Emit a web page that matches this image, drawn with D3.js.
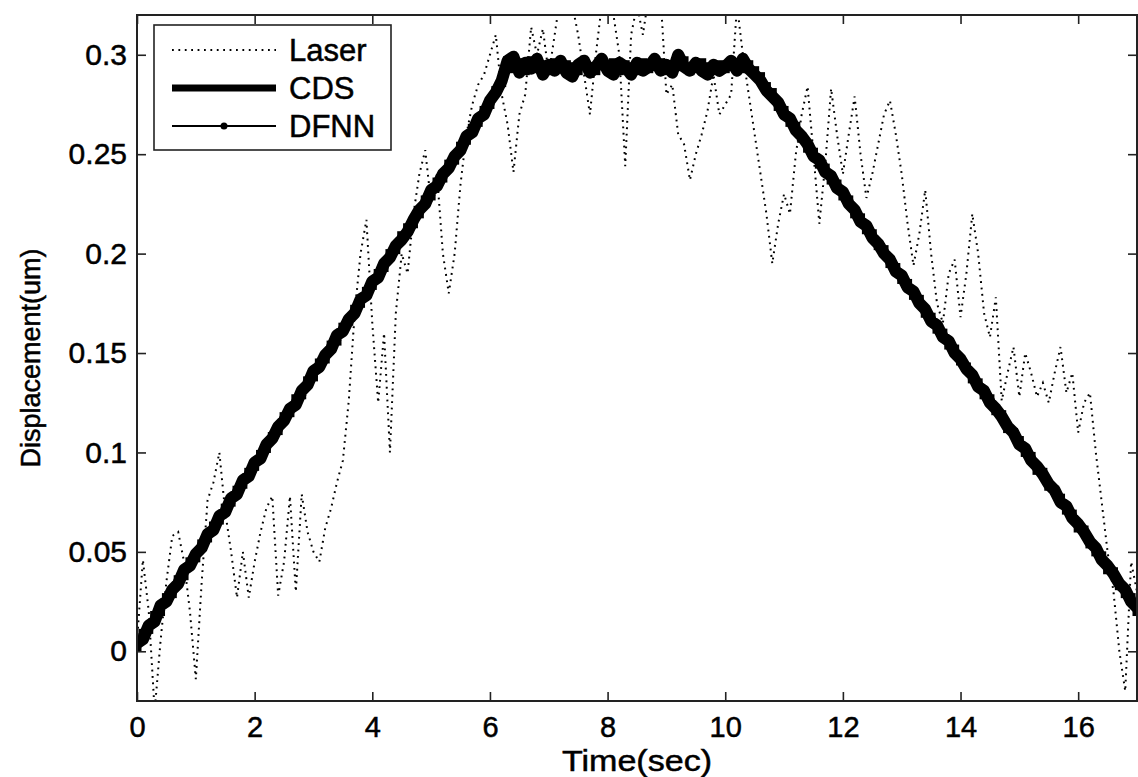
<!DOCTYPE html>
<html>
<head>
<meta charset="utf-8">
<script src="https://cdn.jsdelivr.net/npm/d3@7"></script>
<style>
  html, body { margin: 0; padding: 0; background: #fff; }
  svg { display: block; font-family: "Liberation Sans", Arial, sans-serif; }
  svg text { fill: #000; stroke: #000; stroke-width: 0.5; }
  .axis line { stroke: #222; stroke-width: 1.6; }
</style>
</head>
<body>
<div id="chart"></div>
<script>
// sample grid: 0 .. 17 s every 0.1 s
const dt = 0.1;

// Laser measurement (dotted)
const laser = [
  0.005, 0.046, 0.020, -0.030, 0.005, 0.035, 0.058, 0.060, 0.045, 0.020,
  -0.014, 0.035, 0.076, 0.085, 0.100, 0.070, 0.050, 0.027, 0.050, 0.027,
  0.045, 0.060, 0.072, 0.078, 0.028, 0.045, 0.078, 0.030, 0.079, 0.060,
  0.050, 0.045, 0.062, 0.072, 0.085, 0.096, 0.126, 0.170, 0.200, 0.217,
  0.165, 0.125, 0.160, 0.100, 0.170, 0.200, 0.190, 0.220, 0.240, 0.252,
  0.225, 0.240, 0.200, 0.180, 0.200, 0.235, 0.260, 0.275, 0.285, 0.290,
  0.300, 0.310, 0.280, 0.265, 0.241, 0.270, 0.280, 0.314, 0.300, 0.313,
  0.290, 0.310, 0.330, 0.330, 0.325, 0.310, 0.290, 0.270, 0.300, 0.325,
  0.330, 0.320, 0.300, 0.244, 0.310, 0.325, 0.310, 0.330, 0.325, 0.330,
  0.280, 0.285, 0.260, 0.255, 0.237, 0.250, 0.260, 0.272, 0.290, 0.270,
  0.275, 0.280, 0.325, 0.300, 0.280, 0.260, 0.240, 0.220, 0.195, 0.215,
  0.230, 0.220, 0.250, 0.270, 0.284, 0.250, 0.215, 0.245, 0.283, 0.260,
  0.240, 0.260, 0.279, 0.250, 0.228, 0.240, 0.255, 0.270, 0.277, 0.260,
  0.240, 0.215, 0.194, 0.210, 0.232, 0.200, 0.175, 0.165, 0.190, 0.197,
  0.168, 0.190, 0.220, 0.200, 0.170, 0.158, 0.178, 0.126, 0.140, 0.153,
  0.128, 0.150, 0.140, 0.128, 0.135, 0.125, 0.140, 0.153, 0.130, 0.140,
  0.110, 0.125, 0.130, 0.100, 0.075, 0.050, 0.030, 0.000, -0.020, 0.045,
  0.030
];

// CDS estimate (thick line)
const cds = [
  0.004, 0.006, 0.013, 0.015, 0.023, 0.025, 0.031, 0.034, 0.041, 0.043,
  0.049, 0.052, 0.059, 0.061, 0.068, 0.070, 0.077, 0.079, 0.086, 0.088,
  0.095, 0.097, 0.104, 0.107, 0.113, 0.116, 0.122, 0.124, 0.131, 0.134,
  0.141, 0.143, 0.149, 0.152, 0.159, 0.161, 0.167, 0.170, 0.177, 0.179,
  0.186, 0.188, 0.195, 0.198, 0.204, 0.207, 0.211, 0.217, 0.222, 0.225,
  0.232, 0.234, 0.240, 0.243, 0.249, 0.252, 0.259, 0.261, 0.268, 0.270,
  0.277, 0.281, 0.287, 0.297, 0.299, 0.291, 0.296, 0.293, 0.298, 0.290,
  0.295, 0.292, 0.297, 0.291, 0.289, 0.295, 0.297, 0.291, 0.294, 0.298,
  0.292, 0.290, 0.296, 0.294, 0.290, 0.296, 0.292, 0.294, 0.298, 0.292,
  0.295, 0.291, 0.300, 0.294, 0.292, 0.296, 0.292, 0.290, 0.295, 0.292,
  0.294, 0.297, 0.292, 0.298, 0.293, 0.290, 0.287, 0.282, 0.279, 0.276,
  0.270, 0.268, 0.262, 0.259, 0.255, 0.249, 0.247, 0.241, 0.239, 0.233,
  0.231, 0.225, 0.222, 0.216, 0.214, 0.208, 0.205, 0.200, 0.197, 0.191,
  0.189, 0.183, 0.181, 0.175, 0.172, 0.166, 0.164, 0.158, 0.156, 0.150,
  0.147, 0.142, 0.139, 0.133, 0.131, 0.125, 0.122, 0.118, 0.113, 0.110,
  0.104, 0.102, 0.096, 0.093, 0.089, 0.084, 0.081, 0.075, 0.073, 0.067,
  0.064, 0.060, 0.055, 0.052, 0.046, 0.043, 0.039, 0.034, 0.031, 0.025,
  0.022
];

// DFNN estimate (thin line with dots)
const dfnn = [
  0.002, 0.009, 0.011, 0.018, 0.020, 0.027, 0.029, 0.036, 0.038, 0.045,
  0.047, 0.054, 0.057, 0.063, 0.066, 0.072, 0.075, 0.081, 0.084, 0.090,
  0.093, 0.099, 0.102, 0.108, 0.111, 0.118, 0.120, 0.127, 0.129, 0.136,
  0.138, 0.145, 0.147, 0.154, 0.156, 0.163, 0.166, 0.172, 0.175, 0.181,
  0.184, 0.190, 0.193, 0.200, 0.202, 0.209, 0.213, 0.215, 0.220, 0.227,
  0.229, 0.236, 0.238, 0.245, 0.247, 0.254, 0.257, 0.263, 0.266, 0.272,
  0.275, 0.282, 0.286, 0.297, 0.293, 0.296, 0.292, 0.297, 0.293, 0.295,
  0.292, 0.296, 0.293, 0.295, 0.294, 0.292, 0.296, 0.294, 0.292, 0.295,
  0.294, 0.296, 0.292, 0.295, 0.294, 0.292, 0.296, 0.293, 0.294, 0.296,
  0.292, 0.295, 0.294, 0.297, 0.292, 0.294, 0.296, 0.294, 0.292, 0.295,
  0.293, 0.294, 0.296, 0.293, 0.295, 0.292, 0.289, 0.284, 0.281, 0.274,
  0.272, 0.266, 0.264, 0.258, 0.253, 0.251, 0.245, 0.243, 0.237, 0.235,
  0.229, 0.227, 0.220, 0.218, 0.212, 0.210, 0.204, 0.202, 0.195, 0.193,
  0.187, 0.185, 0.179, 0.177, 0.170, 0.168, 0.162, 0.160, 0.154, 0.152,
  0.146, 0.143, 0.137, 0.135, 0.129, 0.127, 0.121, 0.119, 0.112, 0.110,
  0.106, 0.100, 0.098, 0.091, 0.090, 0.083, 0.081, 0.077, 0.071, 0.069,
  0.062, 0.061, 0.054, 0.050, 0.048, 0.041, 0.040, 0.033, 0.029, 0.027,
  0.020
];

const xTicks = [0, 2, 4, 6, 8, 10, 12, 14, 16];
const yTicks = [0, 0.05, 0.1, 0.15, 0.2, 0.25, 0.3];
const yTickLabels = ['0', '0.05', '0.1', '0.15', '0.2', '0.25', '0.3'];
const legendNames = ['Laser', 'CDS', 'DFNN'];

const width = 1138, height = 777;
const margin = { top: 15, right: 1, bottom: 76, left: 137 };
const W = width - margin.left - margin.right;
const H = height - margin.top - margin.bottom;

const svg = d3.select('#chart').append('svg')
  .attr('width', width)
  .attr('height', height);

const x = d3.scaleLinear().domain([0, 17]).range([0, W]);
const y = d3.scaleLinear().domain([-0.025, 0.32]).range([H, 0]);

const g = svg.append('g').attr('transform', `translate(${margin.left},${margin.top})`);

g.append('clipPath').attr('id', 'plot-clip')
  .append('rect').attr('width', W).attr('height', H);

const toPts = arr => arr.map((v, i) => [Math.round(i * dt * 10) / 10, v]);
const line = d3.line().x(d => x(d[0])).y(d => y(d[1]));

const plot = g.append('g').attr('clip-path', 'url(#plot-clip)');

// laser (dotted)
plot.append('path')
  .datum(toPts(laser))
  .attr('fill', 'none')
  .attr('stroke', '#000')
  .attr('stroke-width', 2)
  .attr('stroke-dasharray', '1.8,4.6')
  .attr('d', line);

// CDS (thick)
plot.append('path')
  .datum(toPts(cds))
  .attr('fill', 'none')
  .attr('stroke', '#000')
  .attr('stroke-width', 12)
  .attr('stroke-linejoin', 'round')
  .attr('d', line);

// DFNN (thin + dots)
plot.append('path')
  .datum(toPts(dfnn))
  .attr('fill', 'none')
  .attr('stroke', '#000')
  .attr('stroke-width', 2)
  .attr('d', line);

plot.selectAll('.dfnn-dot')
  .data(toPts(dfnn))
  .join('rect')
  .attr('class', 'dfnn-dot')
  .attr('x', d => x(d[0]) - 4.5)
  .attr('y', d => y(d[1]) - 4.5)
  .attr('width', 9)
  .attr('height', 9)
  .attr('fill', '#000');

// axes, MATLAB style: ticks pointing inward on all four sides
g.append('g').attr('class', 'axis')
  .attr('transform', `translate(0,${H})`)
  .call(d3.axisBottom(x).tickValues(xTicks).tickSizeInner(-9).tickSizeOuter(0).tickPadding(15))
  .call(a => a.select('.domain').remove())
  .call(a => a.selectAll('text').attr('font-size', 29));

g.append('g').attr('class', 'axis')
  .call(d3.axisTop(x).tickValues(xTicks).tickSizeInner(-9).tickSizeOuter(0).tickFormat(''))
  .call(a => a.select('.domain').remove());

g.append('g').attr('class', 'axis')
  .call(d3.axisLeft(y).tickValues(yTicks).tickSizeInner(-9).tickSizeOuter(0).tickPadding(10)
    .tickFormat((d, i) => yTickLabels[i]))
  .call(a => a.select('.domain').remove())
  .call(a => a.selectAll('text').attr('font-size', 30));

g.append('g').attr('class', 'axis')
  .attr('transform', `translate(${W},0)`)
  .call(d3.axisRight(y).tickValues(yTicks).tickSizeInner(-9).tickSizeOuter(0).tickFormat(''))
  .call(a => a.select('.domain').remove());

// axes box
g.append('rect')
  .attr('width', W).attr('height', H)
  .attr('fill', 'none')
  .attr('stroke', '#222')
  .attr('stroke-width', 2);

// axis titles
svg.append('text')
  .attr('x', margin.left + W / 2)
  .attr('y', 771)
  .attr('text-anchor', 'middle')
  .attr('font-size', 30)
  .attr('textLength', 150)
  .attr('lengthAdjust', 'spacingAndGlyphs')
  .text('Time(sec)');

svg.append('text')
  .attr('transform', `translate(40,${margin.top + H / 2}) rotate(-90)`)
  .attr('text-anchor', 'middle')
  .attr('font-size', 27)
  .text('Displacement(um)');

// legend
const lg = svg.append('g').attr('transform', 'translate(154,25)');
lg.append('rect')
  .attr('width', 237).attr('height', 125)
  .attr('fill', '#fff')
  .attr('stroke', '#222')
  .attr('stroke-width', 1.6);

const rowY = [25, 63, 101];
legendNames.forEach((name, i) => {
  const row = lg.append('g').attr('transform', `translate(0,${rowY[i]})`);
  const seg = row.append('line')
    .attr('x1', 18).attr('x2', 122)
    .attr('stroke', '#000');
  if (i === 0) seg.attr('stroke-width', 2).attr('stroke-dasharray', '1.8,4.6');
  if (i === 1) seg.attr('stroke-width', 7);
  if (i === 2) {
    seg.attr('stroke-width', 2);
    row.append('circle').attr('cx', 70).attr('r', 3.5).attr('fill', '#000');
  }
  row.append('text')
    .attr('x', 135)
    .attr('dy', '0.36em')
    .attr('font-size', 31)
    .text(name);
});
</script>
</body>
</html>
